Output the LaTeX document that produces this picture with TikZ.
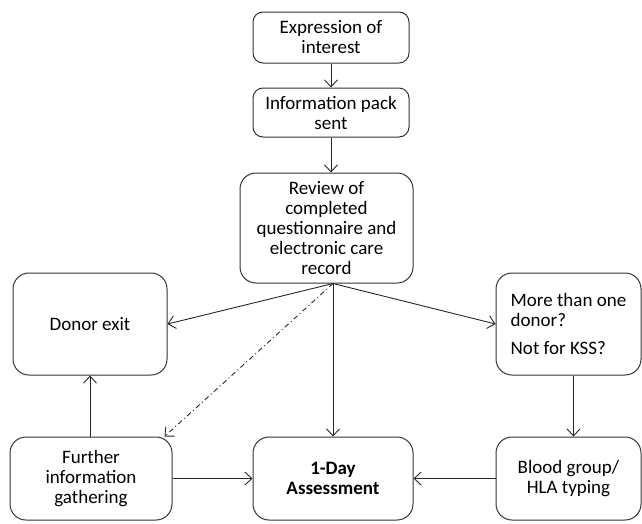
\documentclass[tikz,border=0pt]{standalone}
\usepackage{fontspec}
\setmainfont{Carlito}
\usetikzlibrary{arrows.meta,positioning}
\tikzset{
  flowarrow/.style={-{Straight Barb[length=7pt,width=13pt]}, line width=0.9pt, draw=black!85},
  skiparrow/.style={flowarrow, dash pattern=on 5pt off 3pt on 1pt off 3pt},
  stepbox/.style={draw=black!80, line width=1pt, rounded corners=10pt, fill=white,
    align=center, inner sep=2pt, font=\fontsize{19}{20}\selectfont},
  bigbox/.style={stepbox, rounded corners=16pt}
}

\begin{document}
\begin{tikzpicture}[x=1pt,y=-1pt]
    \useasboundingbox (0,0) rectangle (642,523);
    \node[stepbox, minimum width=156pt, minimum height=51pt] (expr) at (331,37.5) {Expression of\\interest};
    \node[stepbox, minimum width=156pt, minimum height=49pt] (info) at (331,112.5) {Information pack\\sent};
    \node[bigbox, minimum width=173pt, minimum height=110pt] (rev) at (326.5,228) {Review of\\completed\\questionnaire and\\electronic care\\record};
    \node[bigbox, minimum width=154pt, minimum height=102pt] (exit) at (90,324) {Donor exit};
    \node[bigbox, minimum width=145pt, minimum height=102pt, align=left] (more) at (568.5,324) {More than one\\donor?\\[8pt]Not for KSS?};
    \node[bigbox, minimum width=162pt, minimum height=83pt] (further) at (91,478.5) {Further\\information\\gathering};
    \node[bigbox, minimum width=160pt, minimum height=83pt, font=\fontsize{19}{20}\selectfont\bfseries] (day) at (333,478.5) {1-Day\\Assessment};
    \node[bigbox, minimum width=145pt, minimum height=83pt] (blood) at (568.5,478.5) {Blood group/\\HLA typing};

    \coordinate (hub) at ([xshift=6.5pt]rev.south);

    \draw[flowarrow] (expr) -- (info);
    \draw[flowarrow] (info.south) -- (info.south |- rev.north);
    \draw[flowarrow] (hub) -- (exit.east);
    \draw[flowarrow] (hub) -- (more.west);
    \draw[flowarrow] (hub) -- (hub |- day.north);
    \draw[skiparrow] (hub) -- ([xshift=-8pt]further.north east);
    \draw[flowarrow] (exit.south |- further.north) -- (exit.south);
    \draw[flowarrow] (further) -- (day);
    \draw[flowarrow] (blood) -- (day);
    \draw[flowarrow] ([xshift=5pt]more.south) -- ([xshift=5pt]blood.north);
\end{tikzpicture}
\end{document}
